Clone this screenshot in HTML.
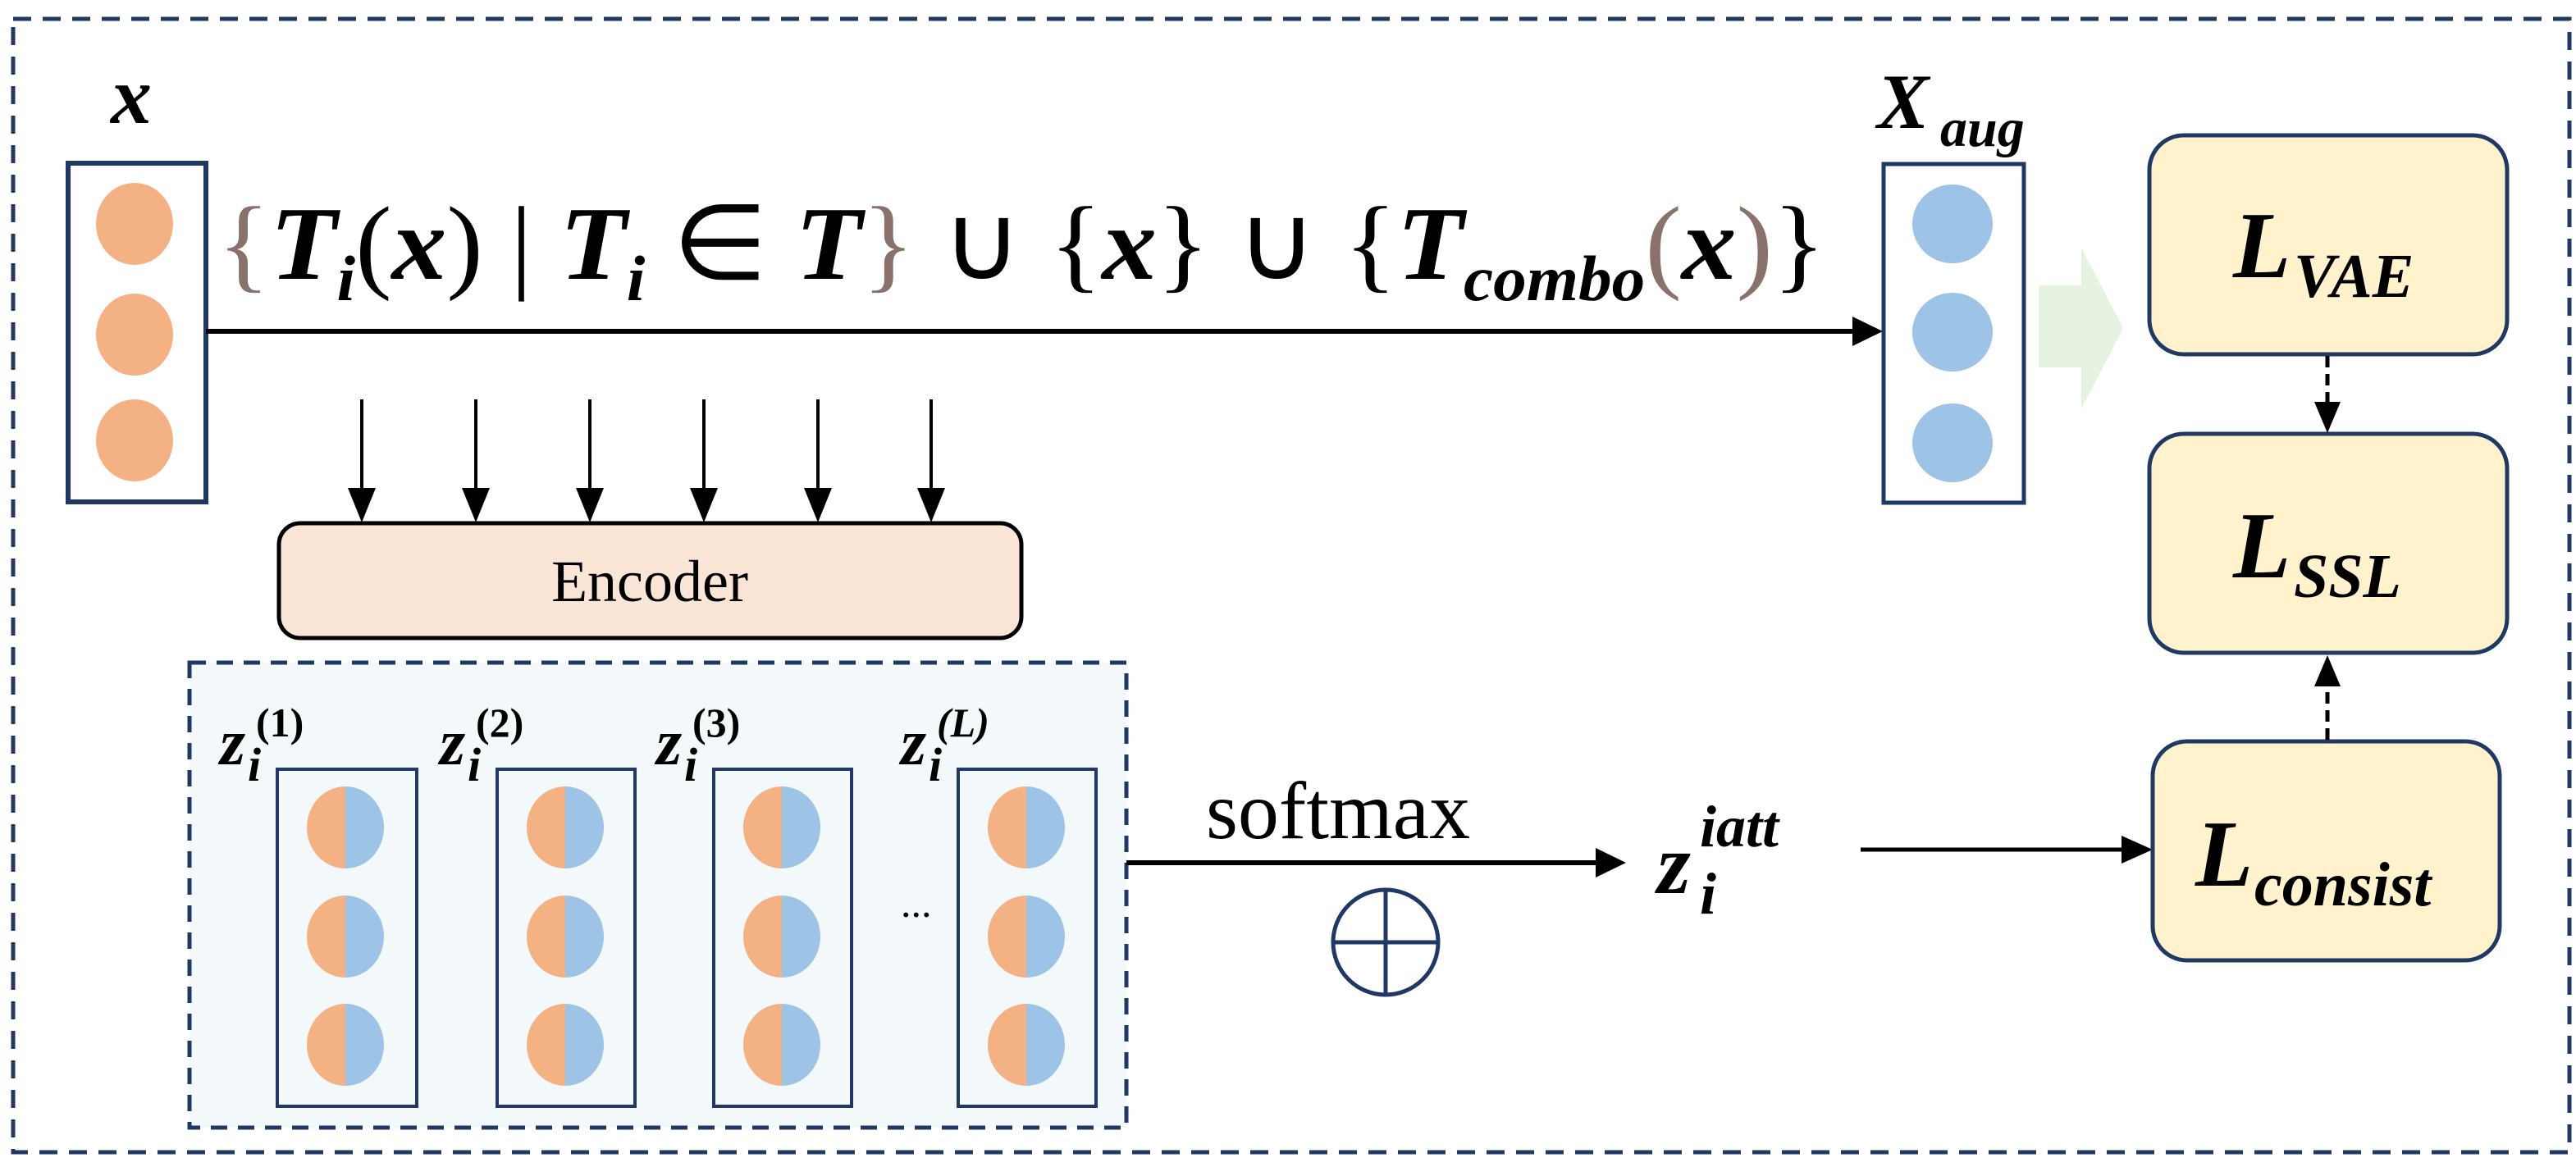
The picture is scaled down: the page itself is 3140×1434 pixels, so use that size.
<!DOCTYPE html>
<html><head><meta charset="utf-8"><style>html,body{margin:0;padding:0;background:#fff}svg{display:block}</style></head>
<body>
<svg width="3140" height="1434" viewBox="0 0 3140 1434" xmlns="http://www.w3.org/2000/svg">
<!-- outer dashed border -->
<rect x="16" y="23" width="3116" height="1382" fill="none" stroke="#203864" stroke-width="5" stroke-dasharray="22,14"/>

<!-- x label -->
<text x="160" y="150" font-family="Liberation Serif, serif" font-weight="bold" font-style="italic" font-size="100" text-anchor="middle">x</text>
<!-- x box -->
<rect x="83" y="199" width="168" height="413" fill="#fff" stroke="#203864" stroke-width="6"/>
<ellipse cx="164" cy="273" rx="47" ry="50" fill="#f4b183"/>
<ellipse cx="164" cy="408" rx="47" ry="50" fill="#f4b183"/>
<ellipse cx="164" cy="537" rx="47" ry="50" fill="#f4b183"/>

<!-- formula -->
<text x="265" y="340" font-family="Liberation Serif, serif" font-size="128" textLength="1960" lengthAdjust="spacingAndGlyphs"><tspan fill="#8a716c">{</tspan><tspan font-weight="bold" font-style="italic">T</tspan><tspan font-weight="bold" font-style="italic" font-size="78" dy="26">i</tspan><tspan dy="-26">(</tspan><tspan font-weight="bold" font-style="italic">x</tspan><tspan>) | </tspan><tspan font-weight="bold" font-style="italic">T</tspan><tspan font-weight="bold" font-style="italic" font-size="78" dy="26">i</tspan><tspan dy="-26"> ∈ </tspan><tspan font-weight="bold" font-style="italic">T</tspan><tspan fill="#8a716c">}</tspan><tspan> ∪ {</tspan><tspan font-weight="bold" font-style="italic">x</tspan><tspan>} ∪ {</tspan><tspan font-weight="bold" font-style="italic">T</tspan><tspan font-weight="bold" font-style="italic" font-size="78" dy="26">combo</tspan><tspan dy="-26" fill="#8a716c">(</tspan><tspan font-weight="bold" font-style="italic">x</tspan><tspan fill="#8a716c">)</tspan><tspan>}</tspan></text>

<!-- main arrow -->
<line x1="251" y1="404" x2="2262" y2="404" stroke="#000" stroke-width="6"/>
<polygon points="2295,404 2258,386 2258,422" fill="#000"/>

<!-- down arrows -->
<g stroke="#000" stroke-width="4">
<line x1="441" y1="487" x2="441" y2="610"/><line x1="580" y1="487" x2="580" y2="610"/><line x1="719" y1="487" x2="719" y2="610"/>
<line x1="858" y1="487" x2="858" y2="610"/><line x1="997" y1="487" x2="997" y2="610"/><line x1="1135" y1="487" x2="1135" y2="610"/>
</g>
<g fill="#000">
<polygon points="441,637 424,595 458,595"/><polygon points="580,637 563,595 597,595"/><polygon points="719,637 702,595 736,595"/>
<polygon points="858,637 841,595 875,595"/><polygon points="997,637 980,595 1014,595"/><polygon points="1135,637 1118,595 1152,595"/>
</g>

<!-- encoder -->
<rect x="340" y="638" width="905" height="140" rx="26" fill="#fbe5d6" stroke="#000" stroke-width="5"/>
<text x="792" y="733" font-family="Liberation Serif, serif" font-size="72" text-anchor="middle">Encoder</text>

<!-- inner dashed box -->
<rect x="231" y="808" width="1142" height="567" fill="#f3f8fb" stroke="#203864" stroke-width="5" stroke-dasharray="20,13"/>

<g font-family="Liberation Serif, serif" font-weight="bold" font-style="italic">
<text x="268" y="932" font-size="80">z</text><text x="302" y="952" font-size="58">i</text><text x="312" y="898" font-size="50" font-style="normal">(1)</text>
<text x="536" y="932" font-size="80">z</text><text x="570" y="952" font-size="58">i</text><text x="580" y="898" font-size="50" font-style="normal">(2)</text>
<text x="800" y="932" font-size="80">z</text><text x="834" y="952" font-size="58">i</text><text x="844" y="898" font-size="50" font-style="normal">(3)</text>
<text x="1098" y="932" font-size="80">z</text><text x="1132" y="952" font-size="58">i</text><text x="1142" y="898" font-size="50">(L)</text>
</g>

<g stroke="#203864" stroke-width="4" fill="none">
<rect x="338" y="938" width="170" height="411"/>
<rect x="606" y="938" width="168" height="411"/>
<rect x="870" y="938" width="168" height="411"/>
<rect x="1168" y="938" width="168" height="411"/>
</g>
<defs>
<g id="hc">
<path d="M0,-50 A47,50 0 0 0 0,50 Z" fill="#f4b183"/>
<path d="M0,-50 A47,50 0 0 1 0,50 Z" fill="#9dc3e6"/>
</g>
</defs>
<use href="#hc" x="421" y="1009"/><use href="#hc" x="421" y="1142"/><use href="#hc" x="421" y="1274"/>
<use href="#hc" x="689" y="1009"/><use href="#hc" x="689" y="1142"/><use href="#hc" x="689" y="1274"/>
<use href="#hc" x="953" y="1009"/><use href="#hc" x="953" y="1142"/><use href="#hc" x="953" y="1274"/>
<use href="#hc" x="1251" y="1009"/><use href="#hc" x="1251" y="1142"/><use href="#hc" x="1251" y="1274"/>
<text x="1098" y="1118" font-family="Liberation Serif, serif" font-size="50">...</text>

<!-- softmax -->
<text x="1470" y="1022" font-family="Liberation Serif, serif" font-size="100">softmax</text>
<line x1="1373" y1="1052" x2="1950" y2="1052" stroke="#000" stroke-width="6"/>
<polygon points="1982,1052 1945,1034 1945,1070" fill="#000"/>
<g stroke="#203864" stroke-width="5" fill="none">
<ellipse cx="1689" cy="1149" rx="64" ry="64"/>
<line x1="1689" y1="1085" x2="1689" y2="1213"/><line x1="1625" y1="1149" x2="1753" y2="1149"/>
</g>

<!-- z_i^iatt -->
<g font-family="Liberation Serif, serif" font-weight="bold" font-style="italic">
<text x="2020" y="1089" font-size="105">z</text>
<text x="2072" y="1114" font-size="72">i</text>
<text x="2072" y="1032" font-size="72">iatt</text>
</g>
<line x1="2268" y1="1036" x2="2590" y2="1036" stroke="#000" stroke-width="5"/>
<polygon points="2624,1036 2586,1019 2586,1053" fill="#000"/>

<!-- X_aug -->
<g font-family="Liberation Serif, serif" font-weight="bold" font-style="italic">
<text x="2288" y="156" font-size="95">X</text>
<text x="2365" y="178" font-size="66">aug</text>
</g>
<rect x="2296" y="200" width="171" height="413" fill="#fff" stroke="#203864" stroke-width="5"/>
<ellipse cx="2380" cy="273" rx="49" ry="48" fill="#9dc3e6"/>
<ellipse cx="2380" cy="405" rx="49" ry="48" fill="#9dc3e6"/>
<ellipse cx="2380" cy="540" rx="49" ry="48" fill="#9dc3e6"/>

<!-- green arrow -->
<polygon points="2485,348 2537,348 2537,302 2588,400 2537,499 2537,448 2485,448" fill="#e7f3e1"/>

<!-- loss boxes -->
<g fill="#fff2cc" stroke="#203864" stroke-width="5">
<rect x="2620" y="165" width="436" height="267" rx="42"/>
<rect x="2620" y="529" width="436" height="267" rx="42"/>
<rect x="2624" y="904" width="423" height="267" rx="42"/>
</g>
<g font-family="Liberation Serif, serif" font-weight="bold" font-style="italic">
<text x="2722" y="338" font-size="115">L</text><text x="2796" y="362" font-size="76">VAE</text>
<text x="2722" y="704" font-size="115">L</text><text x="2796" y="728" font-size="76">SSL</text>
<text x="2676" y="1080" font-size="115">L</text><text x="2748" y="1104" font-size="76">consist</text>
</g>
<!-- dashed arrows -->
<line x1="2837" y1="434" x2="2837" y2="495" stroke="#000" stroke-width="5" stroke-dasharray="14,8"/>
<polygon points="2837,528 2821,490 2853,490" fill="#000"/>
<line x1="2837" y1="902" x2="2837" y2="832" stroke="#000" stroke-width="5" stroke-dasharray="14,8"/>
<polygon points="2837,799 2821,837 2853,837" fill="#000"/>
</svg>
</body></html>
